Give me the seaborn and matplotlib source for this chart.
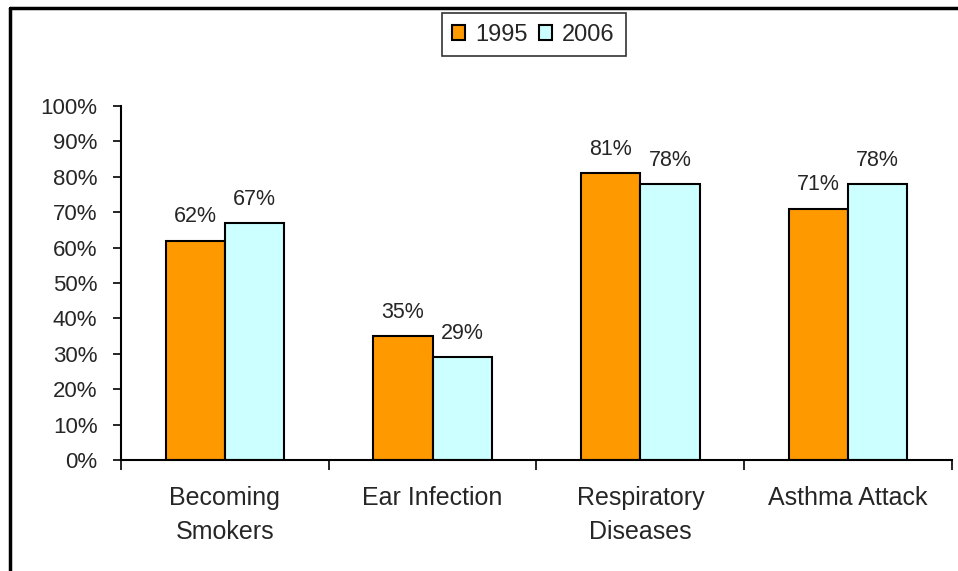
import matplotlib
matplotlib.use("Agg")
import matplotlib.pyplot as plt
import seaborn as sns
import pandas as pd
from matplotlib.lines import Line2D
from matplotlib.ticker import FixedLocator, PercentFormatter

categories = ["Becoming\nSmokers", "Ear Infection", "Respiratory\nDiseases", "Asthma Attack"]
years = ["1995", "2006"]
values_1995 = [0.62, 0.35, 0.81, 0.71]
values_2006 = [0.67, 0.29, 0.78, 0.78]
colors = ["#FF9900", "#CCFFFF"]

df = pd.DataFrame({
    "category": categories * 2,
    "year": [years[0]] * 4 + [years[1]] * 4,
    "value": values_1995 + values_2006,
})

sns.set_style("white")
plt.rcParams["font.family"] = ["Liberation Sans", "DejaVu Sans"]

fig = plt.figure(figsize=(9.58, 5.71), dpi=100)
ax = fig.add_axes([0.1263, 0.1944, 0.8674, 0.62])

sns.barplot(data=df, x="category", y="value", hue="year", palette=colors,
            width=0.57, gap=0, edgecolor="black", linewidth=1.5,
            saturation=1, ax=ax, legend=True)

for cont in ax.containers:
    ax.bar_label(cont, labels=[f"{v*100:.0f}%" for v in cont.datavalues],
                 padding=9.5, fontsize=15.5)

ax.set_xlim(-0.5, 3.5)
ax.set_ylim(0, 1)
ax.set_yticks([i / 10 for i in range(11)])
ax.yaxis.set_major_formatter(PercentFormatter(1.0, decimals=0))
ax.tick_params(axis="y", direction="out", length=6, width=1.2, labelsize=16,
               left=True, color="black", pad=11)
ax.tick_params(axis="x", which="major", length=0, labelsize=18, pad=19)
for lab in ax.get_xticklabels():
    lab.set_linespacing(1.5)
ax.xaxis.set_minor_locator(FixedLocator([-0.5, 0.5, 1.5, 2.5, 3.5]))
ax.tick_params(axis="x", which="minor", direction="out", length=7, width=1.2,
               bottom=True, color="black")
ax.set_xlabel("")
ax.set_ylabel("")
for s in ["top", "right"]:
    ax.spines[s].set_visible(False)
for s in ["left", "bottom"]:
    ax.spines[s].set_color("black")
    ax.spines[s].set_linewidth(1.5)

handles, labels = ax.get_legend_handles_labels()
ax.legend_.remove()
leg = fig.legend(handles, labels, loc="upper center", bbox_to_anchor=(0.557, 0.977),
                 ncol=2, fontsize=17, frameon=True, fancybox=False,
                 handlelength=0.55, handleheight=0.55, handletextpad=0.42,
                 columnspacing=0.5, borderpad=0.45, borderaxespad=0)
leg.get_frame().set_edgecolor("black")
leg.get_frame().set_linewidth(1.2)

# outer chart border (left and top only visible)
fig.add_artist(Line2D([10 / 958, 10 / 958], [0, 1 - 7.5 / 571], color="black",
                      lw=2.5, transform=fig.transFigure))
fig.add_artist(Line2D([10 / 958, 1], [1 - 7.5 / 571, 1 - 7.5 / 571], color="black",
                      lw=2.5, transform=fig.transFigure))

fig.savefig("out.png", dpi=100)
